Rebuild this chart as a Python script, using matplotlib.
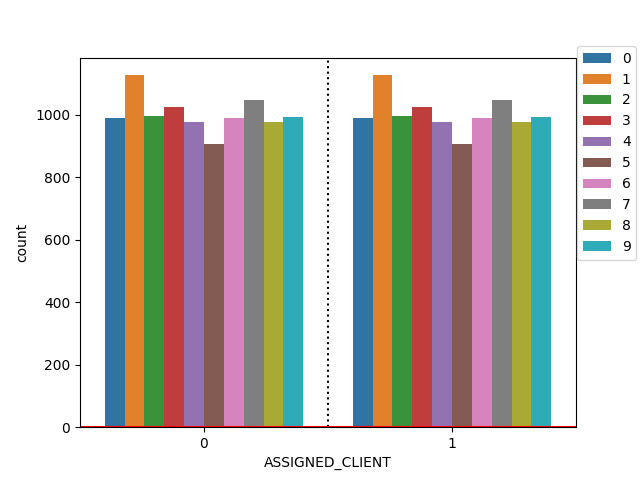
import matplotlib
matplotlib.use("Agg")
import matplotlib.pyplot as plt
import pandas as pd
import seaborn as sns

clients = ["0", "1"]
labels = ["0", "1", "2", "3", "4", "5", "6", "7", "8", "9"]
counts_client0 = [989, 1127, 996, 1025, 977, 907, 989, 1047, 977, 992]
counts_client1 = [989, 1127, 996, 1025, 977, 907, 989, 1047, 977, 992]

rows = []
for c, counts in zip(clients, [counts_client0, counts_client1]):
    for lab, n in zip(labels, counts):
        rows.append({"ASSIGNED_CLIENT": c, "label": lab, "count": n})
df = pd.DataFrame(rows)

fig, ax = plt.subplots(figsize=(6.4, 4.8), dpi=100)
sns.barplot(data=df, x="ASSIGNED_CLIENT", y="count", hue="label",
            palette="tab10", hue_order=labels, order=clients, ax=ax)

ax.axvline(0.5, color="black", linestyle=":")
ax.axhline(0, color="red")

handles, lbls = ax.get_legend_handles_labels()
ax.legend(handles, lbls, loc="upper left", bbox_to_anchor=(1.0, 1.035), borderaxespad=0.1)

plt.savefig("out.png", dpi=100)
plt.close("all")
